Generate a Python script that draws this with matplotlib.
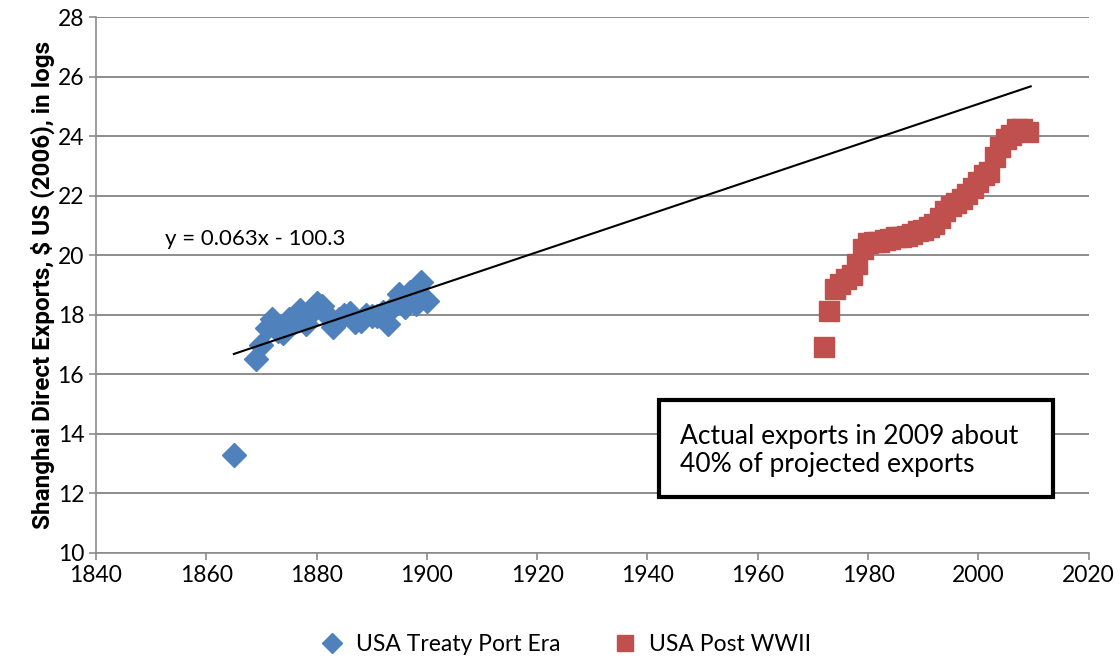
import numpy as np
import matplotlib.pyplot as plt
from matplotlib.patches import Rectangle

plt.rcParams['font.family'] = ['Lato', 'DejaVu Sans']

# Treaty port era (blue diamonds)
treaty_years = [1865, 1869, 1870, 1871, 1872, 1873, 1874, 1875, 1876, 1877, 1878,
                1879, 1880, 1881, 1882, 1883, 1884, 1885, 1886, 1887, 1888, 1889,
                1890, 1891, 1892, 1893, 1894, 1895, 1896, 1897, 1898, 1899, 1900]
treaty_vals = [13.3, 16.5, 17.0, 17.55, 17.85, 17.45, 17.4, 17.85, 17.8, 18.15, 17.7,
               18.05, 18.4, 18.3, 17.95, 17.6, 17.85, 18.0, 18.05, 17.75, 17.8, 18.0,
               17.95, 17.95, 18.1, 17.7, 18.3, 18.7, 18.25, 18.75, 18.35, 19.1, 18.45]

# Post WWII (red squares)
post_years = list(range(1972, 2010))
post_vals = [16.93, 18.13, 18.85, 19.05, 19.2, 19.35, 19.7, 20.2, 20.4, 20.45,
             20.45, 20.5, 20.55, 20.6, 20.6, 20.65, 20.7, 20.8, 20.85, 20.95,
             21.05, 21.25, 21.5, 21.65, 21.75, 21.9, 22.05, 22.25, 22.45, 22.7,
             22.8, 23.3, 23.65, 23.9, 24.05, 24.25, 24.25, 24.15]

# trend line as drawn (label shows rounded coefficients)
trend_slope = 0.0622
trend_intercept = -99.32
trend_range = [1865, 2009.5]

fig = plt.figure(figsize=(11.2, 6.62), dpi=100)
ax = fig.add_axes([0.0857, 0.1647, 0.8863, 0.8096])

ax.grid(axis='y', color='#8c8c8c', linewidth=1.4)
ax.set_axisbelow(True)

ax.plot(treaty_years, treaty_vals, linestyle='none', marker='D', ms=12.5,
        color='#4F81BD', label='USA Treaty Port Era')
ax.plot(post_years, post_vals, linestyle='none', marker='s', ms=14,
        color='#C0504D', label='USA Post WWII')

tx = np.array(trend_range)
ax.plot(tx, trend_slope * tx + trend_intercept, color='black', linewidth=1.5, zorder=3)
ax.text(1852.6, 20.55, 'y = 0.063x - 100.3', fontsize=16, va='center', ha='left')

ax.add_patch(Rectangle((1942.1, 11.88), 71.4, 3.26, fill=True, facecolor='white',
                       edgecolor='black', linewidth=3, zorder=4))
ax.text(1945.9, 13.45, 'Actual exports in 2009 about\n40% of projected exports',
        fontsize=19, va='center', ha='left', linespacing=1.15, zorder=5)

ax.set_xlim(1840, 2020)
ax.set_ylim(10, 28)
ax.set_xticks(range(1840, 2021, 20))
ax.set_yticks(range(10, 29, 2))
ax.tick_params(labelsize=16.5, color='#8c8c8c', length=5, width=1.2)
for s in ['top', 'right']:
    ax.spines[s].set_visible(False)
for s in ['left', 'bottom']:
    ax.spines[s].set_color('#8c8c8c')
    ax.spines[s].set_linewidth(1.2)

ax.set_ylabel('Shanghai Direct Exports, $ US (2006), in logs', fontsize=17.5,
              fontweight='bold', family=['Roboto', 'DejaVu Sans'], labelpad=2)

fig.legend(loc='center', bbox_to_anchor=(0.5, 0.027), ncol=2, frameon=False,
           fontsize=16.5, handletextpad=0.05, columnspacing=1.8, markerscale=0.85)

fig.savefig('out.png', dpi=100)
